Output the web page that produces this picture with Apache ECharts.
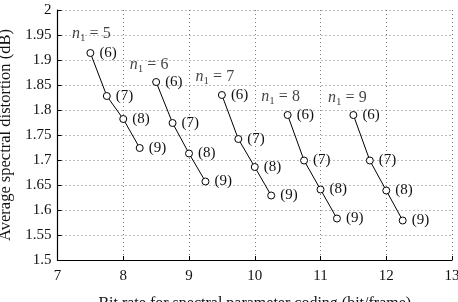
<!DOCTYPE html>
<html><head><meta charset="utf-8">
<script src="https://cdn.jsdelivr.net/npm/echarts@6/dist/echarts.min.js"></script>
<style>html,body{margin:0;padding:0;background:#fff}#c{width:458px;height:302px}</style>
</head><body><div id="c"></div>
<script>
const n1Values = [5, 6, 7, 8, 9];
const n2Labels = ['(6)', '(7)', '(8)', '(9)'];
const bitRate5 = [7.5, 7.75, 8.0, 8.25];
const dist5 = [1.914, 1.828, 1.782, 1.724];
const bitRate6 = [8.5, 8.75, 9.0, 9.25];
const dist6 = [1.856, 1.774, 1.713, 1.657];
const bitRate7 = [9.5, 9.75, 10.0, 10.25];
const dist7 = [1.830, 1.742, 1.686, 1.629];
const bitRate8 = [10.5, 10.75, 11.0, 11.25];
const dist8 = [1.790, 1.699, 1.641, 1.583];
const bitRate9 = [11.5, 11.75, 12.0, 12.25];
const dist9 = [1.790, 1.699, 1.639, 1.579];
const xTicks = [7, 8, 9, 10, 11, 12, 13];
const yTicks = [1.5, 1.55, 1.6, 1.65, 1.7, 1.75, 1.8, 1.85, 1.9, 1.95, 2];

const FONT = 'Liberation Serif';
const TXT = '#111';
const rates = [bitRate5, bitRate6, bitRate7, bitRate8, bitRate9];
const dists = [dist5, dist6, dist7, dist8, dist9];
const titleOffsets = [[1, -19], [-7, -17], [-7, -18], [-7, -18], [-6, -17]];

const series = [];
rates.forEach((r, k) => {
  series.push({
    type: 'line',
    data: r.map((x, i) => [x, dists[k][i]]),
    symbol: 'circle', symbolSize: 7,
    itemStyle: {color: '#fff', borderColor: '#000', borderWidth: 1},
    lineStyle: {color: '#000', width: 1},
    label: {show: true, position: 'right', distance: 5, color: TXT,
      fontFamily: FONT, fontSize: 15,
      formatter: p => n2Labels[p.dataIndex]},
    z: 3, animation: false
  });
  series.push({
    type: 'scatter',
    data: [[r[0], dists[k][0]]],
    symbolSize: 0,
    label: {show: true, position: 'inside', offset: titleOffsets[k],
      formatter: '{i|n}{s|1}{t| = ' + n1Values[k] + '}',
      rich: {
        i: {fontFamily: FONT, fontStyle: 'italic', fontSize: 16, color: TXT},
        s: {fontFamily: FONT, fontSize: 11, color: TXT, padding: [8, 0, 0, 0]},
        t: {fontFamily: FONT, fontSize: 16, color: TXT}
      }},
    silent: true, animation: false
  });
});

const chart = echarts.init(document.getElementById('c'));
chart.setOption({
  animation: false,
  grid: {left: 57.5, right: 6, top: 10, bottom: 42, containLabel: false, outerBoundsMode: 'none'},
  xAxis: {
    type: 'value', min: xTicks[0], max: xTicks[xTicks.length - 1], interval: 1,
    name: 'Bit rate for spectral parameter coding (bit/frame)',
    nameLocation: 'middle', nameGap: 36,
    nameTextStyle: {fontFamily: FONT, fontSize: 16, color: TXT},
    axisLine: {lineStyle: {color: '#000', width: 1.2}},
    axisTick: {inside: true, length: 4, lineStyle: {color: '#000'}},
    axisLabel: {fontFamily: FONT, fontSize: 15, color: TXT, margin: 9},
    splitLine: {show: true, lineStyle: {color: '#777', type: [1, 3], width: 1}}
  },
  yAxis: {
    type: 'value', min: yTicks[0], max: yTicks[yTicks.length - 1], interval: 0.05,
    name: 'Average spectral distortion (dB)',
    nameLocation: 'middle', nameGap: 40,
    nameTextStyle: {fontFamily: FONT, fontSize: 16.5, color: TXT},
    axisLine: {show: true, lineStyle: {color: '#000', width: 1.2}},
    axisTick: {show: true, inside: true, length: 4, lineStyle: {color: '#000'}},
    axisLabel: {fontFamily: FONT, fontSize: 15, color: TXT, margin: 6},
    splitLine: {show: true, lineStyle: {color: '#777', type: [1, 3], width: 1}}
  },
  series: series
});
</script></body></html>
